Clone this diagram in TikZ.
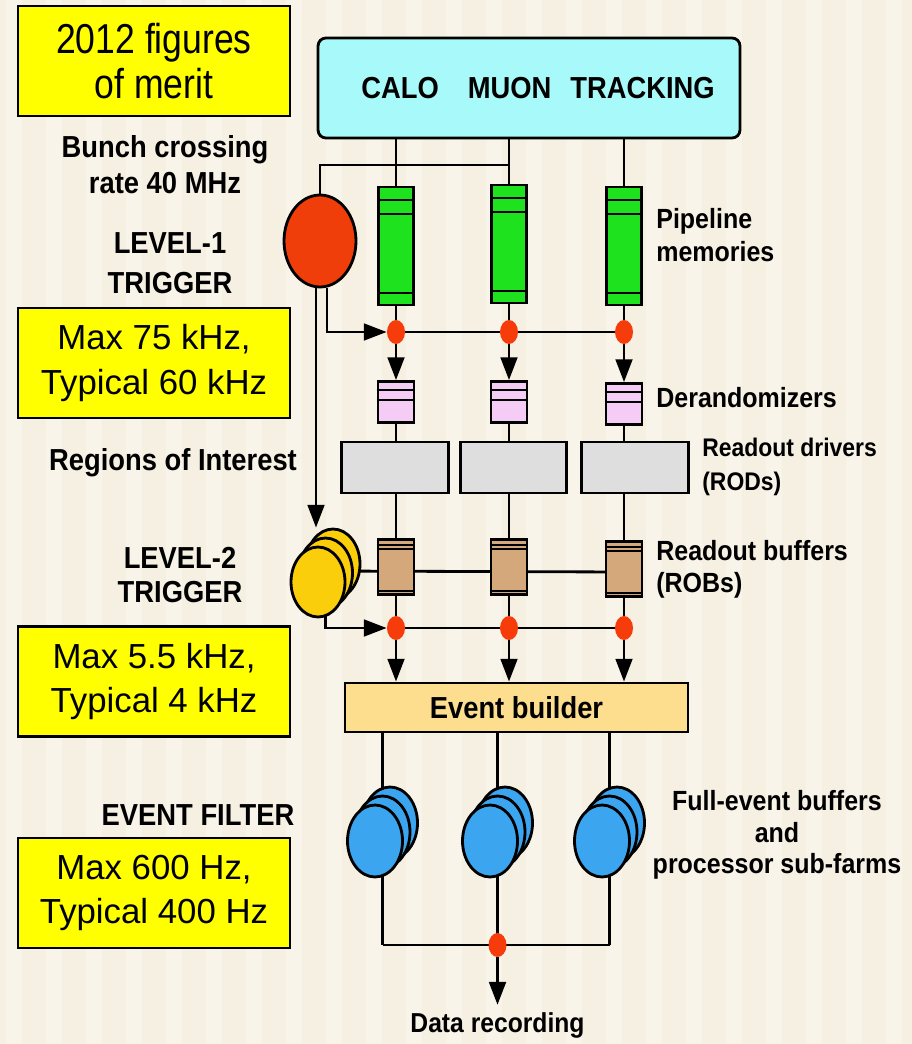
\documentclass[tikz,border=0pt]{standalone}
\usepackage{fontspec}
\setmainfont{Liberation Sans}
\newfontfamily\labfont[FakeStretch=0.9]{Liberation Sans}
\newfontfamily\titlefont[FakeStretch=0.85]{Liberation Sans}
\usetikzlibrary{shapes.geometric,arrows.meta,calc,backgrounds}

\definecolor{bg}{RGB}{246,240,226}
\definecolor{bgstripe}{RGB}{249,244,233}
\definecolor{merit}{RGB}{255,255,0}
\definecolor{detcyan}{RGB}{168,250,250}
\definecolor{lvlred}{RGB}{240,62,10}
\definecolor{dotred}{RGB}{245,60,10}
\definecolor{pipegreen}{RGB}{30,226,30}
\definecolor{derpink}{RGB}{245,204,245}
\definecolor{rodgrey}{RGB}{222,222,222}
\definecolor{robtan}{RGB}{212,168,122}
\definecolor{lvlgold}{RGB}{250,206,10}
\definecolor{ebsand}{RGB}{252,222,142}
\definecolor{efblue}{RGB}{60,165,240}

\begin{document}
\begin{tikzpicture}[x=0.02cm,y=-0.02cm,
  wire/.style={line width=1.6pt},
  arr/.style={wire,-{Triangle[length=13pt,width=9.5pt]}},
  rule/.style={line width=1.1pt},
  box/.style={rectangle,draw,line width=1.6pt,inner sep=0pt},
  pipebox/.style={box,fill=pipegreen,minimum width=0.7cm,minimum height=2.36cm},
  derbox/.style={box,fill=derpink,minimum width=0.72cm,minimum height=0.82cm},
  rodbox/.style={box,fill=rodgrey,minimum width=2.13cm,minimum height=1.02cm},
  robbox/.style={box,fill=robtan,minimum width=0.72cm,minimum height=1.1cm},
  dot/.style={ellipse,fill=dotred,minimum width=0.36cm,minimum height=0.48cm,inner sep=0pt},
  lvltwo/.style={ellipse,draw,line width=1.6pt,fill=lvlgold,minimum width=1.08cm,minimum height=1.4cm,inner sep=0pt},
  farm/.style={ellipse,draw,line width=1.6pt,fill=efblue,minimum width=1.1cm,minimum height=1.44cm,inner sep=0pt},
  big/.style={font=\labfont\bfseries\fontsize{17.3}{20.4}\selectfont,align=center,inner sep=0pt},
  side/.style={font=\labfont\bfseries\fontsize{15.8}{19}\selectfont,align=left,anchor=west,inner sep=0pt},
  note/.style={rectangle,draw,line width=1.2pt,fill=merit,minimum width=5.44cm,minimum height=2.2cm,
    align=center,inner sep=0pt,font=\fontsize{19.8}{25.5}\selectfont}]

% page ground with faint vertical stripes
\begin{scope}[on background layer]
  \fill[bg] (0,0) rectangle (912,1044);
  \foreach \x in {6,46,...,900}
    \fill[bgstripe] (\x,0) rectangle ++(16,1044);
\end{scope}
\useasboundingbox (0,0) rectangle (912,1044);

% detectors
\node[box,rounded corners=4.5pt,fill=detcyan,minimum width=8.44cm,minimum height=2cm,
      font=\labfont\bfseries\fontsize{17.3}{20}\selectfont] (det) at (529,88)
  {\hspace*{0.36cm}CALO\hspace{0.58cm}MUON\hspace{0.38cm}TRACKING};

% pipeline memories
\node[pipebox] (pipe1) at (396,246) {};
\node[pipebox] (pipe2) at (509,244) {};
\node[pipebox] (pipe3) at (624,246) {};
\foreach \i in {1,2,3}{
  \foreach \d in {14,28}
    \draw[rule] ($(pipe\i.north west)+(0,\d)$) -- ($(pipe\i.north east)+(0,\d)$);
  \draw[rule] ($(pipe\i.south west)+(0,-13)$) -- ($(pipe\i.south east)+(0,-13)$);
}

% level-1 trigger
\node[ellipse,draw,line width=1.6pt,fill=lvlred,minimum width=1.44cm,minimum height=1.84cm,inner sep=0pt]
  (l1) at (320,241) {};

% first row of switch points
\node[dot] (d11) at (396,332) {};
\node[dot] (d12) at (509,332) {};
\node[dot] (d13) at (624,332) {};

% derandomizers
\node[derbox] (der1) at (396,402) {};
\node[derbox] (der2) at (509,402) {};
\node[derbox] (der3) at (624,404) {};
\foreach \i in {1,2,3}
  \foreach \d in {10,20}
    \draw[rule] ($(der\i.north west)+(0,\d)$) -- ($(der\i.north east)+(0,\d)$);

% readout drivers
\node[rodbox] (rod1) at (395,467.5) {};
\node[rodbox] (rod2) at (513.5,467.5) {};
\node[rodbox] (rod3) at (635,467.5) {};

% readout buffers
\node[robbox] (rob1) at (396,567) {};
\node[robbox] (rob2) at (509,567) {};
\node[robbox] (rob3) at (624,569) {};
\foreach \i in {1,2,3}{
  \foreach \d in {7,11}
    \draw[rule] ($(rob\i.north west)+(0,\d)$) -- ($(rob\i.north east)+(0,\d)$);
  \draw[rule] ($(rob\i.south west)+(0,-5)$) -- ($(rob\i.south east)+(0,-5)$);
}

% level-2 trigger farm
\node[lvltwo] (l2c) at (333,564) {};
\node[lvltwo] (l2b) at (325.5,573) {};
\node[lvltwo] (l2a) at (318,582) {};

% second row of switch points
\node[dot] (d21) at (396,628) {};
\node[dot] (d22) at (509,628) {};
\node[dot] (d23) at (624,628) {};

% event builder
\node[box,fill=ebsand,minimum width=6.86cm,minimum height=0.98cm,
      font=\labfont\bfseries\fontsize{17.3}{20}\selectfont] (eb) at (516.5,707.5) {Event builder};

% event filter sub-farms
\foreach \i/\x in {1/375,2/490,3/602}{
  \node[farm] (bb\i) at (\x+15,823) {};
  \node[farm] (bm\i) at (\x+7.5,832) {};
  \node[farm] (bf\i) at (\x,841) {};
}
\node[dot] (d3) at (497.5,945) {};
\node[big,font=\labfont\bfseries\fontsize{15.6}{18}\selectfont] (rec) at (497.5,1025) {Data recording};

% connectors
\begin{scope}[on background layer]
  \foreach \i in {1,2,3}
    \draw[wire] (det.south -| pipe\i.north) -- (pipe\i.north);
  \coordinate (tap) at (509,165);
  \draw[wire] (tap) -| (l1.north);
  \draw[arr] ($(l1.south)+(7,0)$) |- (d11.west);
  \draw[wire] (d11) -- (d13);
  \foreach \i in {1,2,3}{
    \draw[wire] (pipe\i.south) -- (d1\i);
    \draw[arr] (d1\i) -- (der\i.north);
    \draw[wire] (der\i.south) -- (der\i.south |- rod\i.north);
    \draw[wire] (rob\i.north |- rod\i.south) -- (rob\i.north);
    \draw[wire] (rob\i.south) -- (d2\i);
    \draw[arr] (d2\i) -- (d2\i |- eb.north);
    \draw[wire] (eb.south -| bm\i) -- (bm\i.center) -- (bm\i |- d3);
  }
  \coordinate (roi) at ($(l1.south)+(-4,0)$);
  \draw[arr] (roi) -- (roi |- l2c.north);
  \draw[wire] ($(l2b.center |- rob1.center)+(0,4)$) -- ($(rob3.center)+(0,3)$);
  \draw[arr] (l2b.center) |- (d21.west);
  \draw[wire] (d21) -- (d23);
  \draw[wire] (bm1 |- d3) -- (bm3 |- d3);
  \draw[arr,shorten >=4pt] (d3) -- (rec.north);
\end{scope}

% side captions
\node[big] (bunch) at (165,165) {Bunch crossing\\rate 40 MHz};
\node[big,font=\labfont\bfseries\fontsize{17.3}{22.7}\selectfont] (lv1) at (170,263) {LEVEL-1\\TRIGGER};
\node[big] (roitext) at (173,463) {Regions of Interest};
\node[big,font=\labfont\bfseries\fontsize{17.3}{19.3}\selectfont] (lv2) at (180,575) {LEVEL-2\\TRIGGER};
\node[big] (ef) at (198,815) {EVENT FILTER};

\node[side] (pipetext) at (656,235) {Pipeline\\memories};
\node[side] (dertext) at (656,398) {Derandomizers};
\node[side,font=\labfont\bfseries\fontsize{14.5}{19.8}\selectfont] (rodtext) at (702,467) {Readout drivers\\(RODs)};
\node[side,font=\labfont\bfseries\fontsize{15.8}{18.1}\selectfont] (robtext) at (656,569) {Readout buffers\\(ROBs)};
\node[big,font=\labfont\bfseries\fontsize{15.8}{18.1}\selectfont] (farmtext) at (777,835)
  {Full-event buffers\\and\\processor sub-farms};

% rate boxes
\node[note,font=\titlefont\fontsize{23.8}{25.5}\selectfont] (merittext) at (154,61) {2012 figures\\of merit};
\node[note] (l1rate) at (154,363) {Max 75 kHz,\\Typical 60 kHz};
\node[note] (l2rate) at (154,681.5) {Max 5.5 kHz,\\Typical 4 kHz};
\node[note] (efrate) at (154,893) {Max 600 Hz,\\Typical 400 Hz};
\end{tikzpicture}
\end{document}
